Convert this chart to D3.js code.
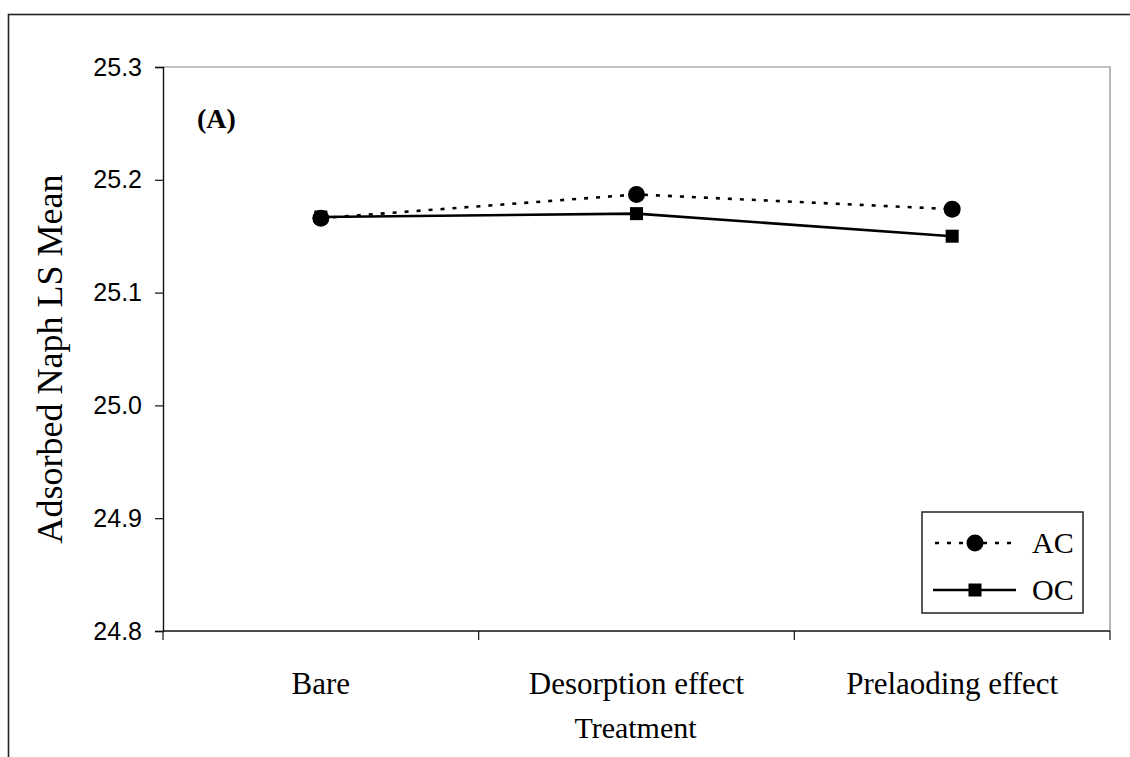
<!DOCTYPE html>
<html>
<head>
<meta charset="utf-8">
<script src="https://cdn.jsdelivr.net/npm/d3@7"></script>
<style>
  html, body { margin: 0; padding: 0; background: #fff; }
  svg { display: block; }
</style>
</head>
<body>
<svg id="chart" width="1130" height="757"></svg>
<script>
const categories = ["Bare", "Desorption effect", "Prelaoding effect"];
const seriesNames = ["AC", "OC"];
const acValues = [25.166, 25.187, 25.174];
const ocValues = [25.167, 25.170, 25.150];
const yTicks = [24.8, 24.9, 25.0, 25.1, 25.2, 25.3];
const yTitle = "Adsorbed Naph LS Mean";
const xTitle = "Treatment";
const panelLabel = "(A)";

const svg = d3.select("#chart");
const W = 1130, H = 757;
const plot = { left: 163, top: 67, right: 1110, bottom: 631 };

// outer frame
svg.append("rect")
  .attr("x", 8.5).attr("y", 14.5)
  .attr("width", W + 20).attr("height", H + 20)
  .attr("fill", "none").attr("stroke", "#222").attr("stroke-width", 1.6);

const x = d3.scaleBand().domain(categories).range([plot.left, plot.right]);
const y = d3.scaleLinear().domain([24.8, 25.3]).range([plot.bottom, plot.top]);

// plot area top & right border (gray)
svg.append("path")
  .attr("d", `M${plot.left},${plot.top}H${plot.right}V${plot.bottom}`)
  .attr("fill", "none").attr("stroke", "#888").attr("stroke-width", 1.2);

// y axis
const yAxis = d3.axisLeft(y).tickValues(yTicks).tickFormat(d3.format(".1f")).tickSize(8).tickPadding(13);
const gy = svg.append("g").attr("transform", `translate(${plot.left},0)`).call(yAxis);
gy.select(".domain").attr("stroke", "#111").attr("stroke-width", 1.4);
gy.selectAll(".tick line").attr("stroke", "#111").attr("stroke-width", 1.2);
gy.selectAll(".tick text")
  .attr("font-family", "'Liberation Sans', Arial, sans-serif")
  .attr("font-size", 25).attr("fill", "#000");

// x axis (ticks at band boundaries)
const gx = svg.append("g").attr("transform", `translate(0,${plot.bottom})`);
gx.append("line").attr("x1", plot.left).attr("x2", plot.right)
  .attr("stroke", "#111").attr("stroke-width", 1.4);
const bounds = categories.map(c => x(c)).concat([x(categories[categories.length - 1]) + x.bandwidth()]);
gx.selectAll("line.tk").data(bounds).enter().append("line").attr("class", "tk")
  .attr("x1", d => d).attr("x2", d => d).attr("y1", 0).attr("y2", 9)
  .attr("stroke", "#111").attr("stroke-width", 1.2);
gx.selectAll("text.cat").data(categories).enter().append("text").attr("class", "cat")
  .attr("x", d => x(d) + x.bandwidth() / 2).attr("y", 63)
  .attr("text-anchor", "middle")
  .attr("font-family", "'Liberation Serif', 'Times New Roman', serif")
  .attr("font-size", 31).attr("fill", "#000").text(d => d);

// axis titles
svg.append("text")
  .attr("x", (plot.left + plot.right) / 2 - 1).attr("y", 738)
  .attr("text-anchor", "middle")
  .attr("font-family", "'Liberation Serif', 'Times New Roman', serif")
  .attr("font-size", 30).attr("fill", "#000").text(xTitle);

svg.append("text")
  .attr("transform", `translate(62,359) rotate(-90)`)
  .attr("text-anchor", "middle")
  .attr("font-family", "'Liberation Serif', 'Times New Roman', serif")
  .attr("font-size", 36).attr("fill", "#000").text(yTitle);

// panel label
svg.append("text")
  .attr("x", 197).attr("y", 128)
  .attr("font-family", "'Liberation Serif', 'Times New Roman', serif")
  .attr("font-weight", "bold")
  .attr("font-size", 28).attr("fill", "#000").text(panelLabel);

const cx = c => x(c) + x.bandwidth() / 2;
const line = d3.line().x(d => cx(d.c)).y(d => y(d.v));

const acData = categories.map((c, i) => ({ c, v: acValues[i] }));
const ocData = categories.map((c, i) => ({ c, v: ocValues[i] }));

// AC dotted line
svg.append("path").datum(acData).attr("d", line)
  .attr("fill", "none").attr("stroke", "#000").attr("stroke-width", 2.6)
  .attr("stroke-dasharray", "4,8");
// OC solid line
svg.append("path").datum(ocData).attr("d", line)
  .attr("fill", "none").attr("stroke", "#000").attr("stroke-width", 2.6);

// OC squares
svg.selectAll("rect.oc").data(ocData).enter().append("rect").attr("class", "oc")
  .attr("x", d => cx(d.c) - 6.5).attr("y", d => y(d.v) - 6.5)
  .attr("width", 13).attr("height", 13).attr("fill", "#000");
// AC circles
svg.selectAll("circle.ac").data(acData).enter().append("circle").attr("class", "ac")
  .attr("cx", d => cx(d.c)).attr("cy", d => y(d.v)).attr("r", 8.5).attr("fill", "#000");

// legend
const lg = svg.append("g");
lg.append("rect").attr("x", 922).attr("y", 512).attr("width", 161).attr("height", 101)
  .attr("fill", "#fff").attr("stroke", "#222").attr("stroke-width", 1.5);
const legendRows = [
  { name: seriesNames[0], y: 543, dash: "4,8", marker: "circle" },
  { name: seriesNames[1], y: 590, dash: null, marker: "square" }
];
legendRows.forEach(r => {
  const ln = lg.append("line").attr("x1", 933).attr("x2", 1016).attr("y1", r.y).attr("y2", r.y)
    .attr("stroke", "#000").attr("stroke-width", 2.6);
  if (r.dash) ln.attr("stroke-dasharray", r.dash).attr("stroke-dashoffset", -2);
  if (r.marker === "circle") {
    lg.append("circle").attr("cx", 975).attr("cy", r.y).attr("r", 8.5).attr("fill", "#000");
  } else {
    lg.append("rect").attr("x", 968.5).attr("y", r.y - 6.5).attr("width", 13).attr("height", 13).attr("fill", "#000");
  }
  lg.append("text").attr("x", 1032).attr("y", r.y + 10)
    .attr("font-family", "'Liberation Serif', 'Times New Roman', serif")
    .attr("font-size", 30).attr("fill", "#000").text(r.name);
});
</script>
</body>
</html>
